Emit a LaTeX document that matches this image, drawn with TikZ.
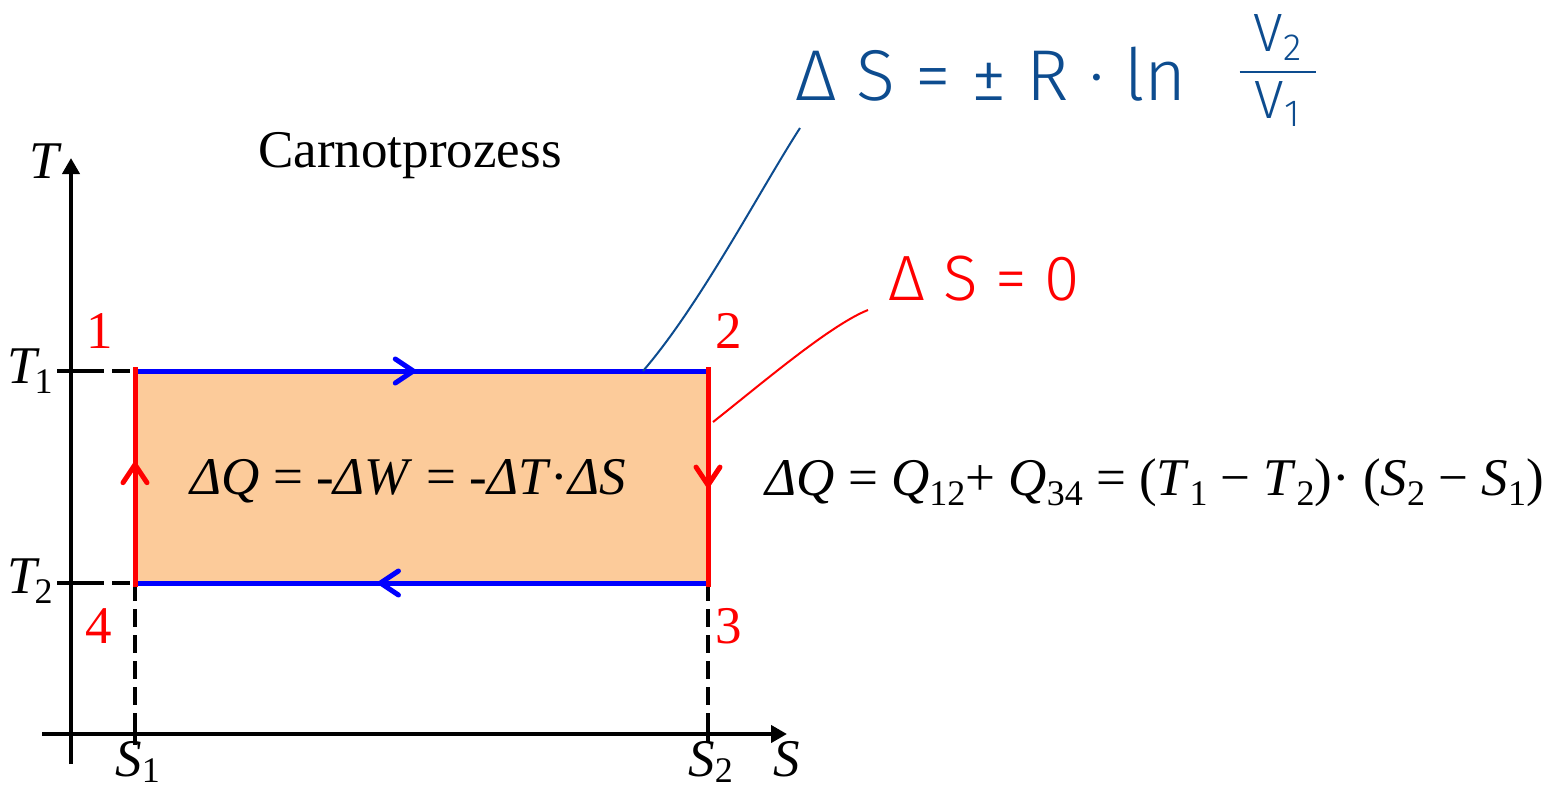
\documentclass[tikz,border=0pt]{standalone}
\usepackage{fontspec}
\setmainfont{Liberation Serif}
\newfontfamily\hwfont{Fira Sans}[UprightFont=* Light]
\usetikzlibrary{arrows.meta,decorations.markings}
\definecolor{peach}{HTML}{FCCB9A}
\definecolor{pblue}{HTML}{0000FF}
\definecolor{pred}{HTML}{FF0000}
\definecolor{hwblue}{HTML}{0D4C8F}
\newcommand\sbx[1]{\raisebox{-5pt}{\fontsize{18}{20}\selectfont #1}}
\newcommand\sbl[1]{\raisebox{-3pt}{\fontsize{18}{20}\selectfont #1}}
\newcommand\bigf{\fontsize{26.5}{30}\selectfont}
\begin{document}
\begin{tikzpicture}[x=0.5pt,y=-0.5pt,
  lbl/.style={inner sep=0pt,font=\bigf},
  num/.style={inner sep=0pt,font=\bigf,text=pred,anchor=base},
  axisline/.style={line width=2pt,-{Triangle[length=8pt,width=8.5pt]}},
  guide/.style={line width=2pt,dash pattern=on 9pt off 4pt},
  tickline/.style={line width=2pt},
  iso/.style={line width=2.5pt,pblue},
  adia/.style={line width=2.5pt,pred,shorten <=-2pt,shorten >=-2pt},
  midarrow/.style={postaction={decorate},decoration={markings,mark=at position #1 with {\arrow{Straight Barb[length=9pt,width=12pt,round,line width=2.5pt]}}}},
  hwline/.style={line width=1pt}
]
\useasboundingbox (0,0) rectangle (1556,793);
% corners
\coordinate (c1) at (135,371);
\coordinate (c2) at (708,371);
\coordinate (c3) at (708,583);
\coordinate (c4) at (135,583);
% axes
\coordinate (xstart) at (42,734);
\coordinate (xend) at (787,734);
\coordinate (ystart) at (71,764);
\coordinate (yend) at (71,158);
% fill
\fill[peach] (c1) rectangle (c3);
% guides
\coordinate (t1a) at (57,371); \coordinate (t1b) at (86,371);
\coordinate (t2a) at (57,583); \coordinate (t2b) at (86,583);
\coordinate (s1a) at (135,728); \coordinate (s1b) at (135,745);
\coordinate (s2a) at (708,728); \coordinate (s2b) at (708,742);
\draw[tickline] (t1a) -- (t1b);
\draw[guide] (t1b) -- (c1);
\draw[tickline] (t2a) -- (t2b);
\draw[guide] (t2b) -- (c4);
\draw[guide] (c4) -- (s1a);
\draw[tickline] (s1a) -- (s1b);
\draw[guide] (c3) -- (s2a);
\draw[tickline] (s2a) -- (s2b);
\draw[axisline] (xstart) -- (xend);
\draw[axisline] (ystart) -- (yend);
% cycle
\draw[iso,midarrow=0.49] (c1) -- (c2);
\draw[iso,midarrow=0.576] (c3) -- (c4);
\draw[adia,midarrow=0.55] (c2) -- (c3);
\draw[adia,midarrow=0.57] (c4) -- (c1);
% labels
\node[lbl,anchor=base west] (ttl) at (258,167) {Carnotprozess};
\node[lbl,anchor=base west] (eqin) at (190,494) {\textit{Δ}\textit{Q} = -\textit{ΔW} = -\textit{ΔT}·\textit{ΔS}};
\node[lbl,anchor=base west] (eqout) at (765,495) {\textit{ΔQ} = \textit{Q}\sbx{12}+ \textit{Q}\sbx{34} = (\textit{T}\sbx{1} − \textit{T}\sbx{2})· (\textit{S}\sbx{2} − \textit{S}\sbx{1})};
\node[lbl,anchor=base west] (tl) at (29,178) {\textit{T}};
\node[lbl,anchor=base east] (t1l) at (53,383) {\textit{T}\kern-3pt\sbx{1}};
\node[lbl,anchor=base east] (t2l) at (53,593) {\textit{T}\kern-3pt\sbx{2}};
\node[lbl,anchor=base west] (s1l) at (115,776) {\textit{S}\sbl{1}};
\node[lbl,anchor=base west] (s2l) at (688,776) {\textit{S}\sbl{2}};
\node[lbl,anchor=base west] (sl) at (773,776) {\textit{S}};
\node[num] (n1) at (100,348) {1};
\node[num] (n2) at (729,348) {2};
\node[num] (n3) at (729,643) {3};
\node[num] (n4) at (99,643) {4};
% handwritten notes
\node[anchor=base west,inner sep=0pt,text=hwblue,font=\hwfont\fontsize{36}{40}\selectfont] (hwb) at (795,100) {Δ S = ± R · ln};
\node[inner sep=0pt,text=hwblue,font=\hwfont\fontsize{27}{32}\selectfont] (hwf) at (1278,72) {\setlength\arrayrulewidth{1.2pt}\begin{tabular}{@{\hspace{7pt}}c@{\hspace{7pt}}}V\textsubscript{2}\\\hline V\textsubscript{1}\end{tabular}};
\node[anchor=base west,inner sep=0pt,text=pred,font=\hwfont\fontsize{32}{36}\selectfont] (hwr) at (888,300) {Δ S = 0};
\coordinate (bl0) at (643,371);
\coordinate (bl1) at (800,128);
\coordinate (rd0) at (713,422);
\coordinate (rd1) at (868,310);
\draw[hwline,hwblue] (bl0) .. controls (700,305) and (760,190) .. (bl1);
\draw[hwline,pred] (rd0) .. controls (760,385) and (830,325) .. (rd1);
\end{tikzpicture}
\end{document}
